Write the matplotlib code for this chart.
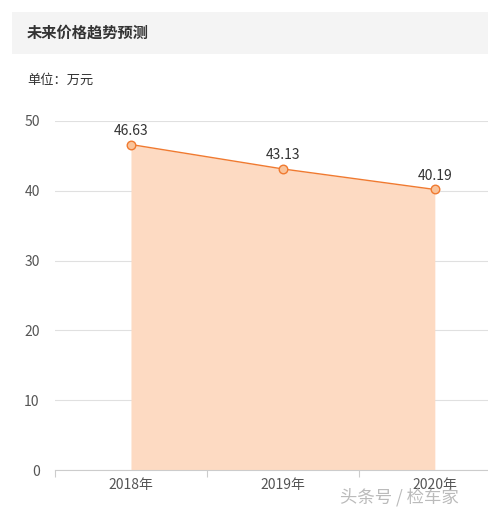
import matplotlib
matplotlib.use('Agg')
import matplotlib.pyplot as plt
from matplotlib.patches import Rectangle

plt.rcParams['font.family'] = ['Noto Sans CJK SC', 'DejaVu Sans']

years = ['2018年', '2019年', '2020年']
prices = [46.63, 43.13, 40.19]
yticks = [0, 10, 20, 30, 40, 50]

W, H = 488, 513
fig = plt.figure(figsize=(W / 100, H / 100), dpi=100)

# header band
fig.patches.append(Rectangle((12 / W, 1 - 54 / H), 1 - 12 / W, 42 / H,
                             transform=fig.transFigure, facecolor='#f4f4f4',
                             edgecolor='none', zorder=0))
fig.text(27 / W, 1 - 33 / H, '未来价格趋势预测', fontsize=11, fontweight='bold',
         color='#333333', va='center', ha='left')
fig.text(27 / W, 1 - 80 / H, '单位：万元', fontsize=9.5, color='#333333',
         va='center', ha='left')

ax = fig.add_axes([55 / W, 43 / H, 1 - 55 / W, (470 - 121) / H])
x = list(range(len(years)))
ax.fill_between(x, prices, 0, color='#fddac2', linewidth=0, zorder=1)
ax.plot(x, prices, color='#f07a30', linewidth=1, zorder=3)
ax.scatter(x, prices, s=38, facecolor='#f9c39a', edgecolor='#f07a30',
           linewidth=1, zorder=4)
for xi, v in zip(x, prices):
    ax.annotate(f'{v:.2f}', (xi, v), xytext=(0, 5), textcoords='offset points',
                ha='center', va='bottom', fontsize=10, color='#333333')

ax.set_xlim(-0.5, 2.35)
ax.set_ylim(0, 50)
ax.set_yticks(yticks)
ax.set_yticklabels([str(t) for t in yticks])
ax.yaxis.grid(True, color='#e0e0e0', linewidth=0.8)
ax.set_axisbelow(True)
ax.tick_params(axis='y', length=0, pad=11, labelsize=10, labelcolor='#555555')

ax.set_xticks(x)
ax.set_xticklabels(years)
ax.set_xticks([-0.5, 0.5, 1.5], minor=True)
ax.tick_params(axis='x', which='major', length=0, pad=6, labelsize=10,
               labelcolor='#555555')
ax.tick_params(axis='x', which='minor', length=5, color='#cccccc', width=0.8)

for s in ['left', 'right', 'top']:
    ax.spines[s].set_visible(False)
ax.spines['bottom'].set_color('#cccccc')
ax.spines['bottom'].set_linewidth(0.8)

# watermark (overlaps the last tick label, as in the source image)
fig.text(340 / W, 1 - 497 / H, '头条号 / 检车家', fontsize=12.5, color='#aaaaaa',
         alpha=0.8, va='center', ha='left')

fig.savefig('out.png', dpi=100)
